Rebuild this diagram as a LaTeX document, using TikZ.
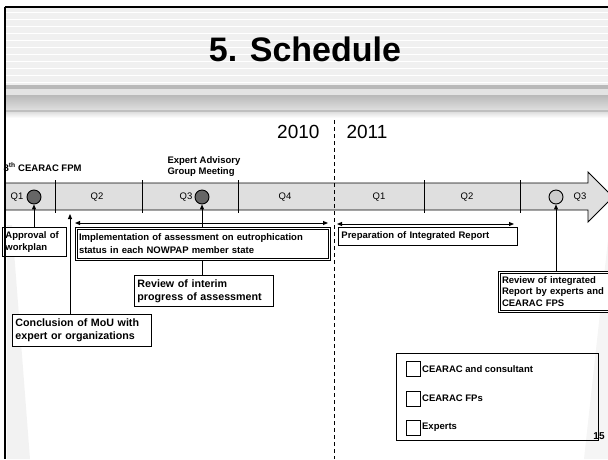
\documentclass[tikz,border=0pt]{standalone}
\usepackage{fontspec}
\setmainfont{Liberation Sans}
\usetikzlibrary{arrows.meta}
\begin{document}
\begin{tikzpicture}[x=1pt,y=-1pt,
  box/.style={draw, line width=0.9pt, fill=white, anchor=north west, align=left, inner xsep=3pt, inner ysep=1pt, font=\fontsize{9.5}{12.5}\selectfont\bfseries},
  bigbox/.style={box, font=\fontsize{10.7}{13}\selectfont\bfseries},
  dbox/.style={box, line width=1pt},
  inner/.style={draw, line width=0.6pt},
  dot/.style={circle, draw, line width=0.9pt, minimum size=14pt, inner sep=0pt},
  arr/.style={line width=0.9pt, -{Triangle[length=5pt,width=4pt]}},
  dbl/.style={line width=0.9pt, {Triangle[length=5pt,width=4pt]}-{Triangle[length=5pt,width=4pt]}},
  qlab/.style={font=\fontsize{9.5}{10}\selectfont},
  lab/.style={font=\fontsize{9.5}{11}\selectfont\bfseries, align=left},
  sq/.style={draw, line width=0.9pt, minimum width=14pt, minimum height=15pt, inner sep=0pt}]
\useasboundingbox (0,0) rectangle (608,459);
\clip (0,0) rectangle (608,459);
% side shading
\fill[gray!10] (7,225) -- (12,225) -- (30,459) -- (7,459) -- cycle;
\fill[gray!8] (608,240) -- (584,459) -- (608,459) -- cycle;
% title band
\fill[gray!12] (5,8) rectangle (608,85);
\foreach \yy in {12,19,...,82} \draw[white, line width=0.8pt] (6,\yy) -- (608,\yy);
\fill[gray!55] (5,85) rectangle (608,89);
\fill[gray!22] (5,89) rectangle (608,95);
\shade[top color=gray!55, bottom color=gray!25] (5,95) rectangle (608,110);
\fill[gray!50] (5,110) rectangle (608,112);
\shade[top color=gray!25, bottom color=white] (5,112) rectangle (608,118);
\node[font=\fontsize{34}{36}\selectfont\bfseries] (title) at (305,49) {5. Schedule};
% years
\node[font=\fontsize{19}{20}\selectfont, anchor=east] (y2010) at (323,132) {2010};
\node[font=\fontsize{19}{20}\selectfont, anchor=west] (y2011) at (343,132) {2011};
% timeline
\fill[gray!25] (5,183) -- (588,183) -- (588,172) -- (613,197) -- (588,222) -- (588,210) -- (5,210) -- cycle;
\draw[line width=0.9pt] (5,183) -- (588,183) -- (588,172) -- (613,197) -- (588,222) -- (588,210) -- (5,210);
\foreach \xx in {55,142,238,424,520} \draw[line width=1pt] (\xx,180) -- (\xx,213);
\coordinate (dtop) at (334,120);
\coordinate (dbot) at (334,459);
\draw[line width=0.8pt, dash pattern=on 4pt off 3pt] (dtop) -- (dbot);
\node[qlab] (q1) at (17,197) {Q1};
\node[qlab] (q2) at (97,197) {Q2};
\node[qlab] (q3) at (186,197) {Q3};
\node[qlab] (q4) at (285,197) {Q4};
\node[qlab] (q5) at (379,197) {Q1};
\node[qlab] (q6) at (467,197) {Q2};
\node[qlab] (q7) at (580,197) {Q3};
\node[dot, fill=black!60] (c1) at (34,197) {};
\node[dot, fill=black!60] (c3) at (202,197) {};
\node[dot, fill=black!20] (c7) at (556,197) {};
% top labels
\node[lab, anchor=west] (fpm) at (0,167) {8\textsuperscript{th} CEARAC FPM};
\node[lab, anchor=south west] (eag) at (164,180) {Expert Advisory\\Group Meeting};
% boxes
\node[box, text width=58pt, minimum height=29pt] (appr) at (2,227) {Approval of\\workplan};
\node[bigbox, text width=133pt, minimum height=31pt] (rint) at (134,275) {Review of interim\\progress of assessment};
\node[bigbox, text width=133pt, minimum height=32pt] (mou) at (12,314) {Conclusion of MoU with\\expert or organizations};
\draw[arr] (rint.north -| c3) -- (c3.south);
\node[dbox, text width=247pt, minimum height=33pt, inner xsep=4pt] (impl) at (74.5,226.5) {Implementation of assessment on eutrophication\\status in each NOWPAP member state};
\draw[inner] ([shift={(2.5pt,-2.5pt)}]impl.north west) rectangle ([shift={(-2.5pt,2.5pt)}]impl.south east);
\node[box, text width=173pt, minimum height=18pt] (prep) at (338,227) {Preparation of Integrated Report};
\node[dbox, font=\fontsize{9.5}{11.5}\selectfont\bfseries, text width=110pt, minimum height=41pt, inner xsep=4pt] (rintg) at (497.5,270.5) {Review of integrated\\Report by experts and\\CEARAC FPS};
\draw[inner] ([shift={(2.5pt,-2.5pt)}]rintg.north west) rectangle ([shift={(-2.5pt,2.5pt)}]rintg.south east);
% connectors
\draw[arr] (appr.north -| c1) -- (c1.south);
\coordinate (mtip) at (70,214);
\draw[arr] (mou.north -| mtip) -- (mtip);
\draw[arr] (rintg.north -| c7) -- (c7.south);
\coordinate (iL) at (75,223);
\coordinate (iR) at (328,223);
\draw[dbl] (iL) -- (iR);
\coordinate (pL) at (337,224);
\coordinate (pR) at (514,224);
\draw[dbl] (pL) -- (pR);
% legend
\node[draw, line width=0.9pt, anchor=north west, minimum width=202pt, minimum height=87pt, inner sep=0pt] (leg) at (396,353) {};
\node[sq] (s1) at (413,369) {};
\node[sq] (s2) at (413,398.5) {};
\node[sq] (s3) at (413,427.5) {};
\node[lab, anchor=west, inner xsep=1.5pt] (l1) at (s1.east) {CEARAC and consultant};
\node[lab, anchor=west, inner xsep=1.5pt] (l2) at (s2.east) {CEARAC FPs};
\node[lab, anchor=west, inner xsep=1.5pt] (l3) at (s3.east) {Experts};
\node[font=\fontsize{10}{11}\selectfont\bfseries] (pg) at (599,436) {15};
% frame
\draw[line width=1.5pt] (4.5,7) -- (608,7);
\draw[line width=2pt] (5,7) -- (5,459);
\end{tikzpicture}
\end{document}
